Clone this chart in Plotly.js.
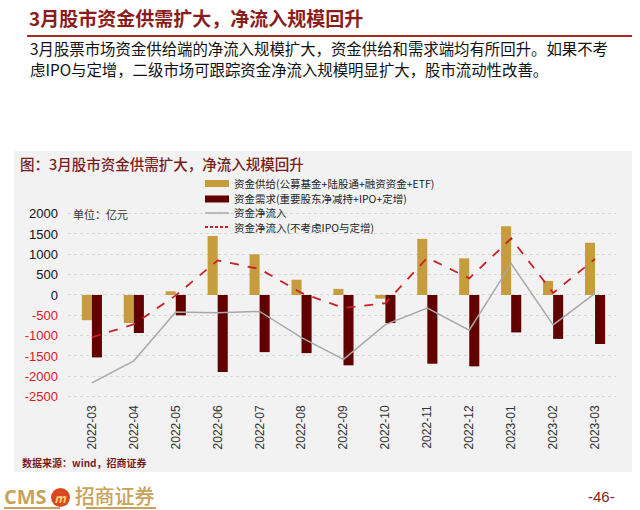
<!DOCTYPE html>
<html>
<head>
<meta charset="utf-8">
<script src="https://cdn.plot.ly/plotly-3.0.1.min.js"></script>
<style>
  html, body { margin:0; padding:0; background:#fff; }
  body { width:640px; height:510px; position:relative; overflow:hidden; font-family:"Noto Sans CJK SC", sans-serif; }
  #hdr { position:absolute; left:29px; top:5px; font-size:19px; font-weight:bold; color:#8b1c1c; white-space:nowrap; line-height:26px; }
  #hline { position:absolute; left:27px; top:35px; width:605px; height:2px; background:#a52a2a; }
  #para { position:absolute; left:30px; top:38px; font-size:15.4px; line-height:21px; color:#111; white-space:nowrap; }
  #panel { position:absolute; left:14px; top:151px; width:618px; height:321px; background:#f2f2f2; }
  #ctitle { position:absolute; left:20px; top:153px; font-size:14.5px; color:#7b1c1c; white-space:nowrap; font-weight:500; }
  #src { position:absolute; left:22px; top:455px; font-size:10px; color:#7b1c1c; font-weight:bold; white-space:nowrap; }
  #chart { position:absolute; left:0; top:0; width:640px; height:510px; }
  #logo { position:absolute; left:4px; top:486px; white-space:nowrap; color:#c9a25a; font-size:20px; font-weight:bold; line-height:20px; height:21px; }
  #logo .cms { font-family:"Open Sans", sans-serif; }
  #logo .circ { display:inline-block; width:19px; height:19px; border-radius:10px; background:#d9481e; color:#ffd27a; font-size:12px; text-align:center; line-height:19px; vertical-align:1px; margin:0 5px 0 4px; font-style:italic; }
  #logo .cn { font-family:"Noto Sans CJK SC", sans-serif; font-weight:500; }
  #ul1 { position:absolute; left:4px; top:507px; width:56px; height:2px; background:#c9a25a; }
  #ul2 { position:absolute; left:86px; top:507px; width:70px; height:2px; background:#c9a25a; }
  #pg { position:absolute; left:588px; top:488px; font-size:15px; color:#8b1c1c; font-family:"Liberation Sans", Arial, sans-serif; }
</style>
</head>
<body>
<div id="hdr">3月股市资金供需扩大，净流入规模回升</div>
<div id="hline"></div>
<div id="para">3月股票市场资金供给端的净流入规模扩大，资金供给和需求端均有所回升。如果不考<br>虑IPO与定增，二级市场可跟踪资金净流入规模明显扩大，股市流动性改善。</div>
<div id="panel"></div>
<div id="ctitle">图：3月股市资金供需扩大，净流入规模回升</div>
<div id="src">数据来源：wind，招商证券</div>
<div id="chart"></div>
<div id="logo"><span class="cms">CMS</span><span class="circ">m</span><span class="cn">招商证券</span></div>
<div id="ul1"></div><div id="ul2"></div>
<div id="pg">-46-</div>
<script>
const months = ['2022-03','2022-04','2022-05','2022-06','2022-07','2022-08','2022-09','2022-10','2022-11','2022-12','2023-01','2023-02','2023-03'];
const supply = [-620, -690, 90, 1450, 1000, 375, 150, -90, 1380, 900, 1690, 345, 1285];
const demand = [-1535, -935, -500, -1895, -1405, -1430, -1730, -690, -1690, -1755, -920, -1080, -1205];
const netFlow = [-2160, -1620, -420, -440, -405, -1050, -1585, -730, -320, -865, 770, -735, 40];
const netExIpo = [-1040, -720, -10, 850, 640, 50, -320, -200, 915, 410, 1390, 50, 885];
const yTicks = [2000, 1500, 1000, 500, 0, -500, -1000, -1500, -2000, -2500];
const names = ['资金供给(公募基金+陆股通+融资资金+ETF)', '资金需求(重要股东净减持+IPO+定增)', '资金净流入', '资金净流入(不考虑IPO与定增)'];

const gold = '#c69c3c', maroon = '#620000', grey = '#a8a8a8', red = '#cc1f24';
const yTickText = yTicks.map(v => v < 0 ? '<span style="color:#e8141b">' + v + '</span>' : String(v));

const traces = [
  {type:'bar', x:months, y:supply, name:names[0], marker:{color:gold}},
  {type:'bar', x:months, y:demand, name:names[1], marker:{color:maroon}},
  {type:'scatter', mode:'lines', x:months, y:netFlow, name:names[2], line:{color:grey, width:1.5}},
  {type:'scatter', mode:'lines', x:months, y:netExIpo, name:names[3], line:{color:red, width:1.8, dash:'dash'}}
];

// custom legend (compact rows like the reference); rows at ~183.5,199,213,227 px
const legRows = [1.1091, 1.0305, 0.9594, 0.8883];
const sx0 = 0.25, sx1 = 0.2938, tx = 0.3011, hh = 0.0178;
const shapes = [
  {type:'rect', xref:'paper', yref:'paper', x0:sx0, x1:sx1, y0:legRows[0]-hh, y1:legRows[0]+hh, fillcolor:gold, line:{width:0}},
  {type:'rect', xref:'paper', yref:'paper', x0:sx0, x1:sx1, y0:legRows[1]-hh, y1:legRows[1]+hh, fillcolor:maroon, line:{width:0}},
  {type:'line', xref:'paper', yref:'paper', x0:sx0, x1:sx1, y0:legRows[2], y1:legRows[2], line:{color:grey, width:1.5}},
  {type:'line', xref:'paper', yref:'paper', x0:sx0, x1:sx1, y0:legRows[3], y1:legRows[3], line:{color:red, width:1.8, dash:'3px,2px'}}
];
const annotations = names.map((n, i) => ({xref:'paper', yref:'paper', x:tx, y:legRows[i], xanchor:'left', yanchor:'middle',
  showarrow:false, borderpad:0, text:n, font:{family:'"Noto Sans CJK SC", sans-serif', size:10.5, color:'#222'}}));
annotations.push({xref:'paper', yref:'y', x:0.005, y:2000, xanchor:'left', yanchor:'middle', showarrow:false,
  text:'单位：亿元', font:{family:'"Noto Sans CJK SC", sans-serif', size:11, color:'#333'}});

const layout = {
  width:640, height:510,
  margin:{l:68, r:24, t:205, b:108},
  paper_bgcolor:'rgba(0,0,0,0)', plot_bgcolor:'rgba(0,0,0,0)',
  barmode:'group', bargap:0.52, bargroupgap:0,
  font:{family:'"Liberation Sans", Arial, sans-serif', size:12, color:'#222'},
  xaxis:{type:'category', range:[-0.57, 12.5], tickangle:-90, showgrid:false, zeroline:false, showline:false, ticks:'',
         tickfont:{size:12, color:'#333'}},
  yaxis:{range:[-2632, 2213], tickvals:yTicks, ticktext:yTickText, showgrid:true, gridcolor:'#d6d6d6', griddash:'3px,3px',
         zeroline:false, showline:false, ticks:'', ticklabelstandoff:9, tickfont:{size:13, color:'#111'}},
  shapes:shapes,
  annotations:annotations,
  showlegend:false
};
Plotly.newPlot('chart', traces, layout, {displayModeBar:false, staticPlot:true});
</script>
</body>
</html>
